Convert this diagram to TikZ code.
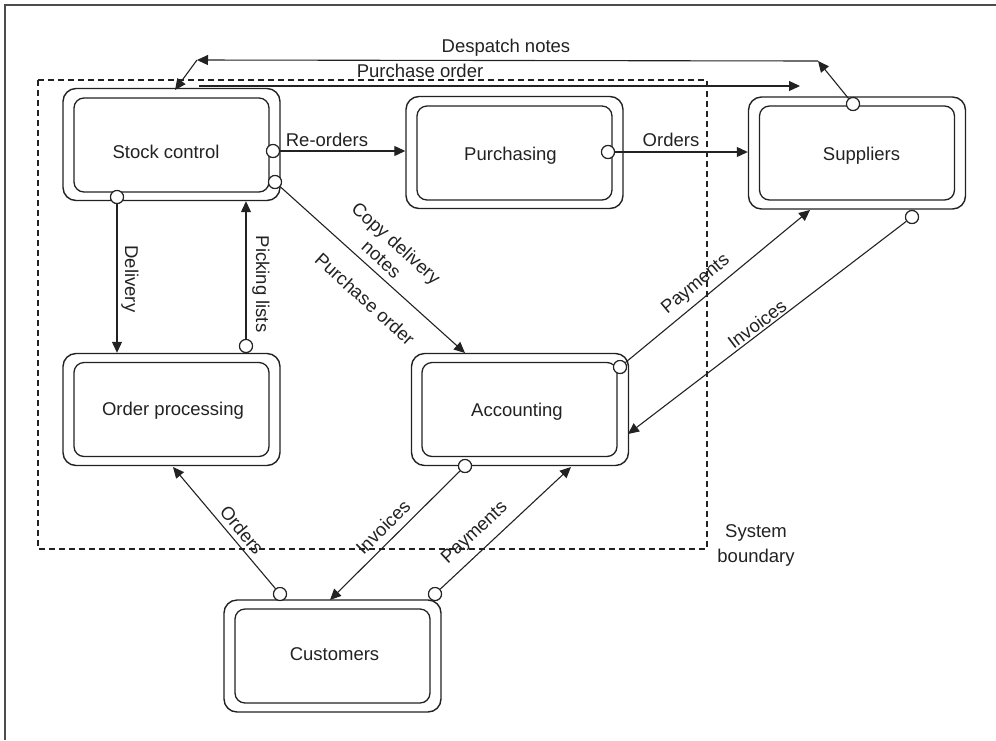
\documentclass[tikz,border=0pt]{standalone}
\usepackage{fontspec}
\setmainfont{Liberation Sans}
\usetikzlibrary{arrows.meta}
\definecolor{ink}{HTML}{222222}
\begin{document}
\begin{tikzpicture}[x=1pt,y=-1pt,
  outerbox/.style={draw=ink, line width=1.4pt, rounded corners=13pt, minimum width=217pt, minimum height=112pt, inner sep=0pt},
  innerbox/.style={draw=ink, line width=1.3pt, rounded corners=10pt, minimum width=195pt, minimum height=94pt, inner sep=0pt},
  txt/.style={text=ink, font=\fontsize{18.5}{22}\selectfont, inner sep=0pt},
  flow/.style={draw=ink, line width=1.1pt, -{Triangle[length=11pt,width=10pt]}},
  port/.style={circle, draw=ink, line width=1.1pt, fill=white, minimum size=13pt, inner sep=0pt},
  boundary/.style={draw=ink, line width=1.1pt, dash pattern=on 6pt off 4pt},
]
\useasboundingbox (0,0) rectangle (996,740);
% frame
\draw[line width=1.6pt, draw=black!70] (5,740) -- (5,5) -- (996,5);
% system boundary
\draw[boundary] (38,80) rectangle (707,549);
\node[txt, align=center, font=\fontsize{18.5}{25}\selectfont] (sysb) at (756,545) {System\\boundary};

% boxes
\node[outerbox] (sc) at (171.5,144.5) {};
\node[innerbox] (sci) at (171.5,145) {};
\node[txt, anchor=base] (sct) at (166,158) {Stock control};

\node[outerbox] (pu) at (514.5,152.5) {};
\node[innerbox] (pui) at (514.5,153) {};
\node[txt, anchor=base] (put) at (510.5,160) {Purchasing};

\node[outerbox] (su) at (857,153) {};
\node[innerbox] (sui) at (857,153) {};
\node[txt, anchor=base] (sut) at (861.5,160) {Suppliers};

\node[outerbox] (op) at (171.5,409.5) {};
\node[innerbox] (opi) at (171.5,409.5) {};
\node[txt, anchor=base] (opt) at (173,415) {Order processing};

\node[outerbox] (ac) at (520,409.5) {};
\node[innerbox] (aci) at (519.5,409.5) {};
\node[txt, anchor=base] (act) at (517,416) {Accounting};

\node[outerbox] (cu) at (332.5,656) {};
\node[innerbox] (cui) at (332.5,656) {};
\node[txt, anchor=base] (cut) at (334.5,660) {Customers};

% ports
\node[port] (p1) at (273,151) {};
\node[port] (p2) at (608,152) {};
\node[port] (p3) at (275,182) {};
\node[port] (p4) at (117,197) {};
\node[port] (p5) at (246,346) {};
\node[port] (p6) at (853,104) {};
\node[port] (p8) at (280,594) {};
\node[port] (p9) at (465,466) {};
\node[port] (p10) at (435,594) {};
\node[port] (p11) at (620,367) {};
\node[port] (p12) at (912,217) {};

% free ends
\coordinate (d1) at (818,61);
\coordinate (d2) at (197,60);
\coordinate (d3) at (175,90);
\coordinate (po1) at (199,86);
\coordinate (po2) at (800,86);
\coordinate (t3) at (465,353);
\coordinate (t8) at (173,467);
\coordinate (t9) at (330,600);
\coordinate (t10) at (571,467);
\coordinate (t11) at (810,210);
\coordinate (t12) at (628,434);

% connectors
\draw[flow] (p1) -- (p1 -| pu.west);
\draw[flow] (p2) -- (p2 -| su.west);
\draw[flow] (p3) -- (t3);
\draw[flow] (p4) -- (p4 |- op.north);
\draw[flow] (p5) -- (p5 |- sc.south);
\draw[flow] (p6) -- (d1);
\draw[flow] (d1) -- (d2);
\draw[flow] (d2) -- (d3);
\draw[flow] (po1) -- (po2);
\draw[flow] (p8) -- (t8);
\draw[flow] (p9) -- (t9);
\draw[flow] (p10) -- (t10);
\draw[flow] (p11) -- (t11);
\draw[flow] (p12) -- (t12);

% redraw ports on top
\foreach \p in {p1,p2,p3,p4,p5,p6,p8,p9,p10,p11,p12}
  \draw[ink, line width=1.1pt, fill=white] (\p.center) circle (6.5pt);

% labels
\node[txt, anchor=base] (l1) at (327,146) {Re-orders};
\node[txt, anchor=base] (l2) at (671,146) {Orders};
\node[txt, anchor=base] (l3) at (506,52) {Despatch notes};
\node[txt, anchor=base] (l4) at (420,77) {Purchase order};
\node[txt, align=center, rotate=-42] (l5) at (389,251) {Copy delivery\\notes};
\node[txt, rotate=-42] (l6) at (365,299) {Purchase order};
\node[txt, rotate=-90] (l7) at (130,279) {Delivery};
\node[txt, rotate=-90] (l8) at (261,284) {Picking lists};
\node[txt, rotate=-50] (l9) at (242,530) {Orders};
\node[txt, rotate=45] (l10) at (383,527) {Invoices};
\node[txt, rotate=43] (l11) at (475,533) {Payments};
\node[txt, rotate=40] (l12) at (696,285) {Payments};
\node[txt, rotate=37] (l13) at (757,324) {Invoices};
\end{tikzpicture}
\end{document}
